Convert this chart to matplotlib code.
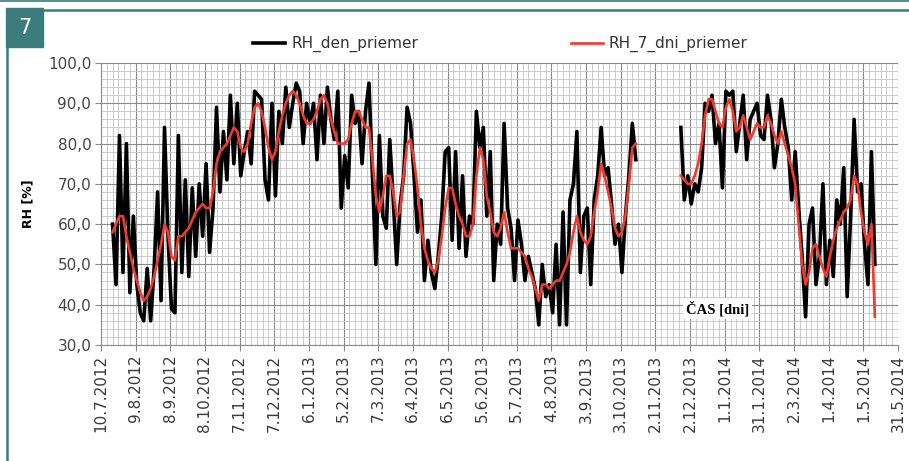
import numpy as np
import pandas as pd
import matplotlib
matplotlib.use('Agg')
from matplotlib import pyplot as plt
from matplotlib.patches import Rectangle
from matplotlib.lines import Line2D

plt.rcParams['font.family'] = ['DejaVu Sans']

nan = np.nan

# denne hodnoty RH, krok 3 dni od 20.7.2012
rh_den = [
    60, 45, 82, 48, 80, 43, 62, 45, 38, 36,
    49, 36, 49, 68, 41, 84, 57, 39, 38, 82,
    48, 71, 47, 69, 52, 70, 57, 75, 53, 64,
    89, 68, 83, 71, 92, 75, 90, 72, 78, 83,
    75, 93, 92, 91, 71, 66, 90, 67, 88, 80,
    94, 84, 90, 95, 93, 80, 90, 85, 90, 76,
    92, 80, 94, 86, 81, 93, 64, 77, 69, 92,
    85, 88, 75, 88,
    95, 72, 50, 82, 62, 59, 81, 66, 50, 65,
    72, 89, 85, 72, 58, 66, 46, 56, 48, 44,
    52, 62, 78, 79, 56, 78, 54, 72, 52, 62,
    60, 88, 79, 84, 62, 78, 46, 60, 55, 85,
    64, 59, 46, 61, 55, 46, 52, 48, 44, 35,
    50, 42, 45, 38, 55, 35, 63, 35, 66, 70,
    83, 48, 62, 64, 45, 66, 72,
    84, 72, 74, 65, 55, 60, 48, 62, 72, 85, 76,
    nan, nan, nan, nan, nan, nan, nan, nan, nan, nan, nan, nan,
    84, 66, 72, 65, 70, 68, 74, 90, 88, 92,
    80, 85, 69, 93, 92, 93, 78, 85, 92, 76,
    86, 88, 90, 82, 81, 92, 86, 74, 80, 91,
    84, 79, 66, 78, 64, 52, 37, 60, 64, 45,
    52, 70, 45, 56, 47, 66, 60, 74, 42, 62,
    86, 68, 70, 55, 45, 78, 50,
]

# 7-dnovy priemer RH
rh_7dni = [
    58, 60, 62, 62, 57, 53, 49, 46, 43, 41,
    42, 44, 47, 51, 55, 60, 58, 52, 51, 57,
    57, 58, 59, 61, 63, 64, 65, 64, 64, 68,
    75, 78, 79, 80, 82, 84, 83, 79, 78, 80,
    85, 89, 90, 88, 84, 79, 76, 78, 83, 87,
    90, 92, 93, 92, 90, 87, 85, 85, 86, 88,
    91, 92, 90, 86, 83, 80, 80, 80, 81, 85,
    88, 88, 86, 84,
    84, 76, 67, 63, 67, 72, 72, 68, 62, 63,
    72, 80, 81, 76, 69, 60, 54, 51, 49, 48,
    51, 57, 64, 69, 69, 65, 62, 60, 57, 57,
    60, 72, 79, 76, 67, 63, 58, 57, 59, 63,
    58, 54, 54, 54, 53, 52, 49, 47, 44, 41,
    45, 45, 44, 45, 46, 46, 48, 50, 53, 58,
    62, 58, 56, 55, 57, 63, 68,
    75, 72, 68, 64, 59, 57, 58, 62, 70, 79, 80,
    nan, nan, nan, nan, nan, nan, nan, nan, nan, nan, nan, nan,
    72, 71, 70, 70, 72, 75, 80, 87, 91, 91,
    88, 85, 84, 89, 91, 88, 83, 84, 87, 84,
    81, 83, 85, 84, 84, 87, 85, 82, 80, 83,
    80, 77, 74, 70, 60, 50, 45, 48, 54, 55,
    52, 49, 47, 52, 56, 59, 61, 63, 64, 66,
    72, 70, 63, 58, 55, 60, 37,
]

tick_labels = ['10.7.2012', '9.8.2012', '8.9.2012', '8.10.2012', '7.11.2012',
               '7.12.2012', '6.1.2013', '5.2.2013', '7.3.2013', '6.4.2013',
               '6.5.2013', '5.6.2013', '5.7.2013', '4.8.2013', '3.9.2013',
               '3.10.2013', '2.11.2013', '2.12.2013', '1.1.2014', '31.1.2014',
               '2.3.2014', '1.4.2014', '1.5.2014', '31.5.2014']
y_labels = ['30,0', '40,0', '50,0', '60,0', '70,0', '80,0', '90,0', '100,0']

dates = pd.date_range('2012-07-20', periods=len(rh_den), freq='3D')
ticks = pd.date_range('2012-07-10', periods=len(tick_labels), freq='30D')
minor = pd.date_range(ticks[0], ticks[-1], freq='5D')

teal = '#3b7c7c'
fig = plt.figure(figsize=(9.09, 4.61), dpi=100)

# ramik a cislo obrazku
fig.add_artist(Line2D([0, 1], [0.998, 0.998], color=teal, lw=1.2))
fig.add_artist(Line2D([43 / 909, 1], [1 - 10.5 / 461, 1 - 10.5 / 461], color=teal, lw=1.8))
fig.add_artist(Line2D([7 / 909, 7 / 909], [0, 1 - 45 / 461], color=teal, lw=1.8))
fig.add_artist(Rectangle((6 / 909, 1 - 47 / 461), 37 / 909, 39 / 461,
                         transform=fig.transFigure, color=teal))
fig.text(24.5 / 909, 1 - 28 / 461, '7', color='white', fontsize=15,
         ha='center', va='center')

ax = fig.add_axes([101 / 909, 116 / 461, 797 / 909, 282 / 461])
ax.plot(dates, rh_den, color='black', lw=2.6, label='RH_den_priemer')
ax.plot(dates, rh_7dni, color='#ee3b30', lw=1.9, label='RH_7_dni_priemer')

ax.set_xlim(ticks[0], ticks[-1])
ax.set_ylim(30, 100)
ax.set_xticks(ticks)
ax.set_xticklabels(tick_labels, rotation=90, fontsize=11, color='#3a3a3a')
ax.set_xticks(minor, minor=True)
ax.set_yticks(np.arange(30, 101, 10))
ax.set_yticklabels(y_labels, fontsize=11, color='#444444')
ax.set_yticks(np.arange(30, 101, 2), minor=True)

ax.grid(which='minor', color='#c4c4c4', lw=0.6)
ax.grid(which='major', color='#8a8a8a', lw=0.8)
ax.set_axisbelow(True)
ax.tick_params(which='minor', length=0)
ax.tick_params(which='major', length=4, color='#8a8a8a', pad=3)
for s in ['top', 'right']:
    ax.spines[s].set_visible(False)
for s in ['left', 'bottom']:
    ax.spines[s].set_color('#8a8a8a')

ax.set_ylabel('RH [%]', fontsize=9, fontweight='bold', labelpad=10)

ax.legend(loc='lower center', bbox_to_anchor=(0.501, 1.0), ncol=2, frameon=False,
          fontsize=11, handlelength=2.1, handletextpad=0.4, columnspacing=10,
          borderaxespad=0.3, labelcolor='#333333')

ax.text(0.774, 0.13, 'ČAS [dni]', transform=ax.transAxes, fontsize=10.5,
        fontweight='bold', family='Liberation Serif', ha='center', va='center',
        bbox=dict(facecolor='white', edgecolor='none', pad=2))

plt.savefig('out.png', dpi=100)
